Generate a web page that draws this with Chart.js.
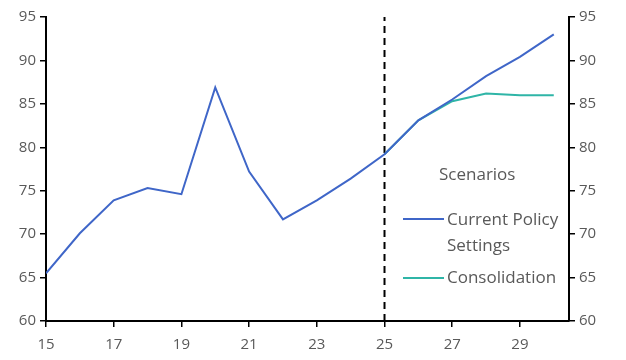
<!DOCTYPE html>
<html>
<head>
<meta charset="utf-8">
<script src="https://cdn.jsdelivr.net/npm/chart.js@4"></script>
<style>
  html, body { margin: 0; padding: 0; background: #fff; }
  #wrap { width: 626px; height: 360px; }
</style>
</head>
<body>
<div id="wrap"><canvas id="chart"></canvas></div>
<script>
// years (20xx)
const years = [15, 16, 17, 18, 19, 20, 21, 22, 23, 24, 25, 26, 27, 28, 29, 30];
const currentPolicy = [65.5, 70.1, 73.9, 75.3, 74.6, 86.9, 77.2, 71.7, 73.9, 76.4, 79.2, 83.1, 85.5, 88.2, 90.4, 93.0];
const consolidationYears = [25, 26, 27, 28, 29, 30];
const consolidation = [79.2, 83.1, 85.3, 86.2, 86.0, 86.0];
const xTicks = [15, 17, 19, 21, 23, 25, 27, 29];
const forecastStart = 25;

const BLUE = '#3f66c8';
const TEAL = '#2fb5a7';
const TEXT = '#595959';
const FONT = "'Open Sans', 'Noto Sans', sans-serif";

const toPoints = (xs, ys) => xs.map((x, i) => ({ x: x, y: ys[i] }));

// legend drawn inside the plot, to the right of the dashed line
const legendPlugin = {
    id: 'scenarioLegend',
    afterDraw(chart) {
        const ctx = chart.ctx;
        ctx.save();
        ctx.font = '17px ' + FONT;
        ctx.fillStyle = TEXT;
        ctx.textBaseline = 'middle';
        ctx.fillText('Scenarios', 439, 175);

        ctx.lineWidth = 2;
        ctx.strokeStyle = BLUE;
        ctx.beginPath(); ctx.moveTo(403, 219); ctx.lineTo(444, 219); ctx.stroke();
        ctx.fillText('Current Policy', 447, 220);
        ctx.fillText('Settings', 447, 246);

        ctx.strokeStyle = TEAL;
        ctx.beginPath(); ctx.moveTo(403, 278); ctx.lineTo(444, 278); ctx.stroke();
        ctx.fillText('Consolidation', 447, 278);
        ctx.restore();
    }
};

const axisCommon = {
    min: 60,
    max: 95,
    ticks: { stepSize: 5, color: TEXT, font: { family: FONT, size: 15 }, padding: 4 },
    grid: { drawOnChartArea: false, drawTicks: true, tickLength: 6, color: '#000', lineWidth: 1.5 },
    border: { color: '#000', width: 2 }
};

new Chart(document.getElementById('chart'), {
    type: 'line',
    data: {
        datasets: [
            {
                label: 'Current Policy Settings',
                data: toPoints(years, currentPolicy),
                borderColor: BLUE,
                borderWidth: 2,
                pointRadius: 0,
                tension: 0,
                yAxisID: 'y'
            },
            {
                label: 'Consolidation',
                data: toPoints(consolidationYears, consolidation),
                borderColor: TEAL,
                borderWidth: 2,
                pointRadius: 0,
                tension: 0,
                yAxisID: 'y'
            },
            {
                label: 'forecast',
                data: [{ x: forecastStart, y: 60 }, { x: forecastStart, y: 95 }],
                borderColor: '#000',
                borderWidth: 2,
                borderDash: [7, 5],
                pointRadius: 0,
                yAxisID: 'y'
            }
        ]
    },
    options: {
        responsive: true,
        maintainAspectRatio: false,
        animation: false,
        layout: { padding: { top: 17, left: 0, right: 0, bottom: 0 } },
        plugins: { legend: { display: false }, tooltip: { enabled: false } },
        scales: {
            x: {
                type: 'linear',
                min: 15,
                max: 30.45,
                afterBuildTicks: (scale) => { scale.ticks = xTicks.map(v => ({ value: v })); },
                afterFit: (scale) => { scale.height = 39; },
                ticks: { color: TEXT, font: { family: FONT, size: 15 }, padding: 9, maxRotation: 0, autoSkip: false },
                grid: { drawOnChartArea: false, drawTicks: true, tickLength: 6, color: '#000', lineWidth: 1.5 },
                border: { color: '#000', width: 2 }
            },
            y: Object.assign({}, axisCommon, {
                position: 'left',
                afterFit: (scale) => { scale.width = 46; }
            }),
            y2: Object.assign({}, axisCommon, {
                position: 'right',
                afterFit: (scale) => { scale.width = 57; }
            })
        }
    },
    plugins: [legendPlugin]
});
</script>
</body>
</html>
